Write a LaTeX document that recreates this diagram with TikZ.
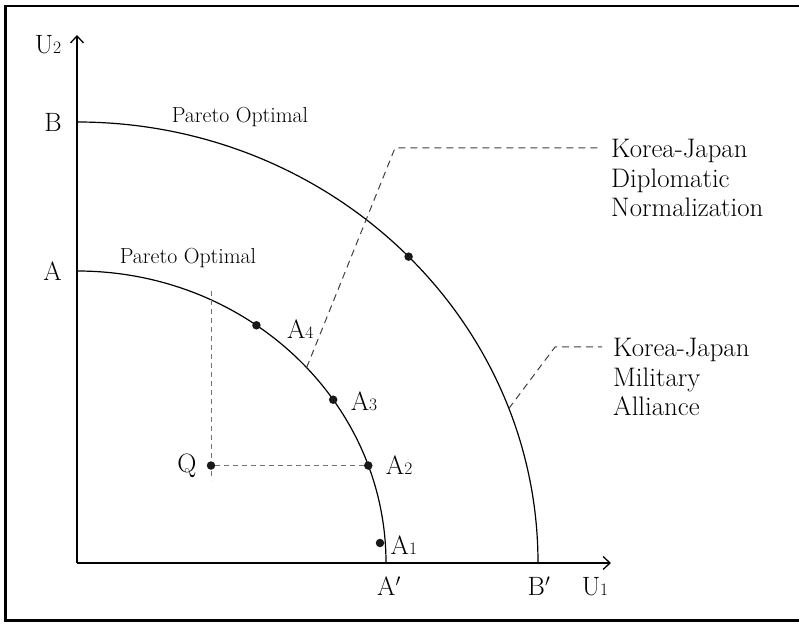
\documentclass[tikz,border=0pt]{standalone}
\usetikzlibrary{positioning,arrows.meta,calc}
\newcommand{\subn}[1]{{\fontsize{17.5}{17.5}\selectfont #1}}

\begin{document}
\begin{tikzpicture}[
        x=1pt, y=1pt,
        node distance=12pt and 12pt,
        lbl/.style={inner sep=0pt, font=\fontsize{26.5}{29.5}\selectfont},
        po/.style={inner sep=0pt, font=\fontsize{21.8}{24}\selectfont},
        note/.style={inner sep=0pt, align=left, anchor=north west, font=\fontsize{26.8}{29.8}\selectfont},
        dot/.style={circle, fill=black!90, inner sep=0pt, minimum size=8.5pt},
        curve/.style={line width=1.2pt},
        axis/.style={line width=1.3pt, -{Straight Barb[length=7pt, width=13pt]}},
        leader/.style={line width=1pt, black!75, dash pattern=on 7pt off 5pt},
        guide/.style={line width=1pt, black!55, dash pattern=on 5pt off 4pt}
    ]
        \useasboundingbox (0,0) rectangle (799,623);
        \draw[line width=2.5pt] (830,2.3) -- (5.5,2.3) -- (5.5,617) -- (830,617);

        \coordinate (o) at (77,60);
        \coordinate (u2) at (77,588);
        \coordinate (u1) at (611,60);
        \coordinate (bstart) at (77,501);
        \coordinate (astart) at (77,352);
        \coordinate (bend) at (538,60);
        \coordinate (aend) at (386,60);

        \draw[axis] (o) -- (u2);
        \draw[axis] (o) -- (u1);
        \draw[curve] (bstart) arc[start angle=90, end angle=0, x radius=461, y radius=441];
        \draw[curve] (astart) arc[start angle=90, end angle=0, x radius=309, y radius=292];

        \node[lbl] (u2l) at (48,578) {U\subn{2}};
        \node[lbl] (u1l) at (595,36) {U\subn{1}};
        \node[lbl, left=15pt of bstart] (bl) {B};
        \node[lbl, left=15pt of astart] (al) {A};
        \node[lbl, below=14pt of aend, xshift=3pt] (ael) {A$'$};
        \node[lbl, below=14pt of bend, xshift=1pt] (bel) {B$'$};
        \node[po] (pob) at (240,506) {Pareto Optimal};
        \node[po] (poa) at (188,365) {Pareto Optimal};

        \coordinate (qx) at (211,0);
        \node[dot] (a1) at (380,80) {};
        \node[dot] (a2) at ($(o)+(19.5:309pt and 292pt)$) {};
        \node[dot] (a3) at ($(o)+(34:309pt and 292pt)$) {};
        \node[dot] (a4) at ($(o)+(54.5:309pt and 292pt)$) {};
        \node[dot] (bb) at ($(o)+(44:461pt and 441pt)$) {};
        \coordinate (qtop) at (qx |- 0,332);
        \coordinate (qbot) at (qx |- 0,143);
        \draw[guide] (qtop) -- (qbot);
        \node[dot] (q) at (qx |- a2) {};
        \draw[guide] (q) -- (a2);

        \node[lbl, right=6pt of a1, yshift=-2pt] (a1l) {A\subn{1}};
        \node[lbl, right=13pt of a2] (a2l) {A\subn{2}};
        \node[lbl, right=13pt of a3, yshift=-2pt] (a3l) {A\subn{3}};
        \node[lbl, right=26pt of a4, yshift=-4pt] (a4l) {A\subn{4}};
        \node[lbl, left=10pt of q] (ql) {Q};

        \coordinate (dstart) at ($(o)+(42:309pt and 292pt)$);
        \coordinate (dbend) at (395,475);
        \coordinate (dend) at (598,475);
        \draw[leader] (dstart) -- (dbend) -- (dend);
        \node[note] (dipl) at ([xshift=13pt, yshift=9.2pt]dend) {Korea-Japan\\Diplomatic\\Normalization};

        \coordinate (mstart) at ($(o)+(20.5:461pt and 441pt)$);
        \coordinate (mbend) at (555,276);
        \coordinate (mend) at (602,276);
        \draw[leader] (mstart) -- (mbend) -- (mend);
        \node[note] (mil) at ([xshift=11pt, yshift=9.2pt]mend) {Korea-Japan\\Military\\Alliance};
    \end{tikzpicture}
\end{document}
